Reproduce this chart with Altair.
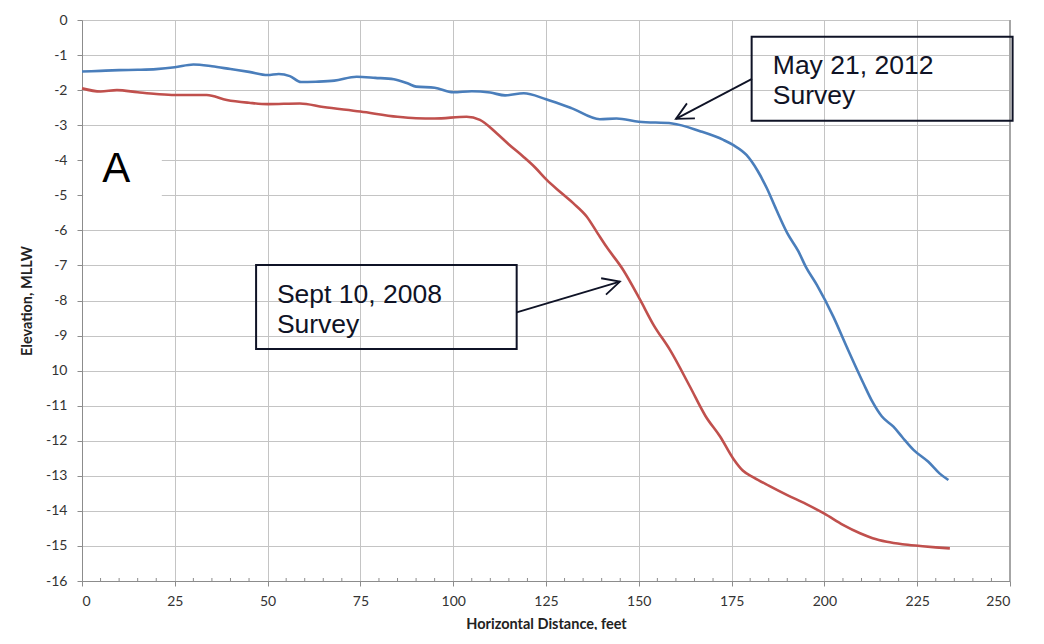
import altair as alt
import pandas as pd

# ---------------- data ----------------
dist_2012 = [0, 5, 10, 15, 20, 25, 30, 35, 40, 45, 50, 53, 56, 59, 63, 68, 74, 79, 84, 88, 90,
             95, 100, 105, 110, 114, 119, 125, 132, 139.5, 144, 150, 159, 166.5, 172.8, 175.5,
             179, 182, 184.5, 187, 190, 193, 195, 198, 202.4, 206, 210.5, 213, 215.5, 218.6,
             221, 224, 228, 231, 233.4]
elev_2012 = [-1.47, -1.45, -1.43, -1.42, -1.40, -1.35, -1.27, -1.32, -1.40, -1.48, -1.57, -1.54,
             -1.60, -1.77, -1.76, -1.73, -1.62, -1.65, -1.69, -1.82, -1.90, -1.93, -2.06, -2.03,
             -2.07, -2.15, -2.09, -2.26, -2.52, -2.83, -2.81, -2.90, -2.95, -3.17, -3.42, -3.57,
             -3.85, -4.30, -4.80, -5.40, -6.08, -6.60, -7.04, -7.56, -8.46, -9.32, -10.36,
             -10.90, -11.31, -11.60, -11.90, -12.26, -12.60, -12.93, -13.12]

dist_2008 = [0, 5, 9.4, 15, 20, 25, 33.6, 39, 45, 50, 58.7, 65, 75, 85, 90, 95, 103.6, 107.2,
             111.7, 115, 118.9, 122, 125.2, 129, 132.4, 136, 139, 141.3, 145.8, 150.3, 154,
             158.4, 163.8, 168, 171.9, 175.5, 178, 181, 185, 190, 195, 200, 205, 209.6, 213,
             216.8, 221, 225.8, 230, 233.8]
elev_2008 = [-1.95, -2.04, -2.00, -2.06, -2.11, -2.14, -2.14, -2.28, -2.36, -2.40, -2.38, -2.48,
             -2.61, -2.76, -2.80, -2.81, -2.76, -2.85, -3.23, -3.55, -3.90, -4.20, -4.56, -4.92,
             -5.23, -5.61, -6.10, -6.47, -7.13, -7.97, -8.70, -9.41, -10.46, -11.30, -11.88,
             -12.52, -12.85, -13.05, -13.28, -13.55, -13.80, -14.08, -14.40, -14.64, -14.78,
             -14.88, -14.95, -15.00, -15.04, -15.07]

series_names = ["May 21, 2012", "Sept 10, 2008"]
series_colors = ["#4a7ebb", "#c0504d"]

x_ticks = list(range(0, 251, 25))
x_minor = [v for v in range(5, 250, 5) if v % 25]
y_ticks = list(range(0, -17, -1))
y_tick_labels = ["0", "-1", "-2", "-3", "-4", "-5", "-6", "-7", "-8", "-9", "10",
                 "-11", "-12", "-13", "-14", "-15", "-16"]

# annotation boxes, texts and arrows (data units)
box_x = [180.4, 46.9]
box_x2 = [250.7, 117.1]
box_y = [-0.48, -6.99]
box_y2 = [-2.87, -9.38]
label_x = [186.1, 52.5]
label_lines = [["May 21, 2012", "Survey"], ["Sept 10, 2008", "Survey"]]
label_y = [[-1.54, -2.40], [-8.06, -8.94]]
arrow_x = [180.5, 117.1]
arrow_y = [-1.68, -8.34]
arrow_x2 = [160.0, 144.9]
arrow_y2 = [-2.82, -7.46]
arrow_angle = [152, 343.5]

panel_letter = "A"
panel_x = 9.2
panel_y = -4.61
panel_box = [0.3, 21.5, -3.3, -5.4]

# ---------------- tables ----------------
lines_df = pd.concat([
    pd.DataFrame({"d": dist_2012, "e": elev_2012, "s": series_names[0]}),
    pd.DataFrame({"d": dist_2008, "e": elev_2008, "s": series_names[1]}),
])
box_df = pd.DataFrame({"x": box_x, "x2": box_x2, "y": box_y, "y2": box_y2})
text_rows = []
for i in range(len(label_x)):
    for t, yy in zip(label_lines[i], label_y[i]):
        text_rows.append({"x": label_x[i], "y": yy, "t": t})
text_df = pd.DataFrame(text_rows)
arrow_df = pd.DataFrame({"x": arrow_x, "y": arrow_y, "x2": arrow_x2, "y2": arrow_y2,
                         "a": arrow_angle})
minor_df = pd.DataFrame({"x": x_minor, "y": [-16] * len(x_minor)})
panel_df = pd.DataFrame({"x": [panel_box[0]], "x2": [panel_box[1]],
                         "y": [panel_box[2]], "y2": [panel_box[3]],
                         "tx": [panel_x], "ty": [panel_y], "t": [panel_letter]})
edge_df = pd.DataFrame({"x": [250], "y": [0], "y2": [-16]})

xs = alt.Scale(domain=[0, 250], nice=False, zero=False)
ys = alt.Scale(domain=[-16, 0], nice=False, zero=False)

label_expr = "[" + ",".join("'" + s + "'" for s in y_tick_labels) + "][-datum.value]"

x_axis = alt.Axis(values=x_ticks, title="Horizontal Distance, feet", grid=True,
                  gridColor="#c4c4c4", gridWidth=1, domainColor="#8c8c8c", tickColor="#8c8c8c",
                  tickSize=5, labelFont="Lato", labelFontSize=14, labelColor="#333333",
                  labelPadding=8, titleFont="Lato", titleFontSize=14.5, titleFontWeight="bold",
                  titleColor="#222222", titlePadding=9)
y_axis = alt.Axis(values=y_ticks, labelExpr=label_expr, title="Elevation, MLLW", grid=True,
                  gridColor="#c4c4c4", gridWidth=1, domainColor="#8c8c8c", tickColor="#8c8c8c",
                  tickSize=5, labelFont="Lato", labelFontSize=14, labelColor="#333333",
                  labelPadding=10, titleFont="Lato", titleFontSize=14.5, titleFontWeight="bold",
                  titleColor="#222222", titlePadding=11)


def X(f):
    return alt.X(f, scale=xs, axis=x_axis)


def Y(f):
    return alt.Y(f, scale=ys, axis=y_axis)


lines = alt.Chart(lines_df).mark_line(strokeWidth=2.6, interpolate="monotone").encode(
    x=X("d:Q"), y=Y("e:Q"),
    color=alt.Color("s:N", scale=alt.Scale(domain=series_names, range=series_colors), legend=None),
    detail="s:N",
)

panel_rect = alt.Chart(panel_df).mark_rect(color="white").encode(
    x=X("x:Q"), x2="x2", y=Y("y:Q"), y2="y2")
panel_text = alt.Chart(panel_df).mark_text(font="Liberation Sans", fontSize=42, color="#000000",
                                           align="center", baseline="alphabetic").encode(
    x=X("tx:Q"), y=Y("ty:Q"), text="t:N")

minor = alt.Chart(minor_df).mark_point(shape="M0,-1L0,0", size=36, filled=False,
                                       color="#8c8c8c", strokeWidth=1, opacity=1).encode(
    x=X("x:Q"), y=Y("y:Q"))

edge = alt.Chart(edge_df).mark_rule(color="#a6a6a6", strokeWidth=2).encode(
    x=X("x:Q"), y=Y("y:Q"), y2="y2")

boxes = alt.Chart(box_df).mark_rect(fillOpacity=0, stroke="#0f1326", strokeWidth=2,
                                    clip=False).encode(
    x=X("x:Q"), x2="x2", y=Y("y:Q"), y2="y2")

texts = alt.Chart(text_df).mark_text(font="Liberation Sans", fontSize=26.5, color="#0f1326",
                                     align="left", baseline="alphabetic").encode(
    x=X("x:Q"), y=Y("y:Q"), text="t:N")

shafts = alt.Chart(arrow_df).mark_rule(color="#0f1326", strokeWidth=1.8).encode(
    x=X("x:Q"), y=Y("y:Q"), x2="x2", y2="y2")

heads = alt.Chart(arrow_df).mark_point(shape="M-1,-0.5L0,0L-1,0.5", size=1156, filled=False,
                                       color="#0f1326", strokeWidth=1.8, opacity=1).encode(
    x=X("x2:Q"), y=Y("y2:Q"),
    angle=alt.Angle("a:Q", scale=None))

chart = alt.layer(lines, panel_rect, panel_text, minor, edge, boxes, texts, shafts, heads
                  ).properties(
    width=928, height=561,
    autosize=alt.AutoSizeParams(type="none"),
    padding={"left": 74, "top": 12, "right": 26, "bottom": 49},
    background="white",
).configure_view(stroke=None)

chart.save("out.html", embed_options={"renderer": "svg", "actions": False})
